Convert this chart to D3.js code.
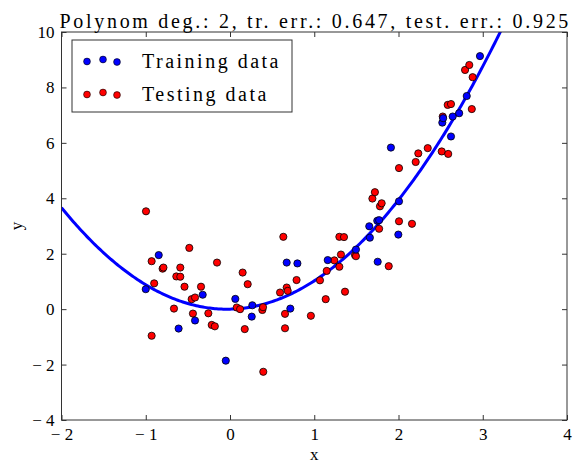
<!DOCTYPE html>
<html>
<head>
<meta charset="utf-8">
<script src="https://cdn.jsdelivr.net/npm/d3@7"></script>
<style>
  body { margin: 0; background: #fff; }
  text { font-family: "Liberation Serif", "DejaVu Serif", serif; fill: #000; }
</style>
</head>
<body>
<div id="chart"></div>
<script>
// training points (blue)
const trainX = [-1.0, -0.846, -0.61, -0.415, -0.324, -0.05, 0.063, 0.258, 0.265, 0.673, 0.80, 0.716,
  1.16, 1.495, 1.66, 1.653, 1.748, 1.77, 1.753, 1.91, 2.006, 1.998, 2.52, 2.53, 2.623, 2.643, 2.72, 2.81, 2.967];
const trainY = [0.72, 1.95, -0.70, -0.41, 0.52, -1.86, 0.37, -0.27, 0.14, 1.68, 1.65, 0.02,
  1.77, 2.15, 2.58, 2.99, 3.19, 3.21, 1.71, 5.83, 3.89, 2.69, 6.73, 6.89, 6.23, 6.95, 7.07, 7.69, 9.13];

// testing points (red)
const testX = [-0.997, -0.93, -0.90, -0.93, -0.80, -0.79, -0.665, -0.637, -0.59, -0.59, -0.54, -0.483,
  -0.455, -0.415, -0.44, -0.344, -0.257, -0.217, -0.18, -0.154, 0.08, 0.12, 0.15, 0.21, 0.175, 0.384,
  0.395, 0.392, 0.633, 0.594, 0.673, 0.685, 0.653, 0.653, 0.79, 0.96,
  1.068, 1.136, 1.148, 1.238, 1.298, 1.353, 1.317, 1.298, 1.365, 1.484, 1.495, 1.69, 1.72, 1.78, 1.80,
  1.77, 1.884, 2.006, 2.006, 2.16, 2.204, 2.235, 2.347, 2.513, 2.59, 2.525, 2.584, 2.623, 2.87, 2.79, 2.84, 2.88];
const testY = [3.53, 1.73, 0.93, -0.96, 1.46, 1.50, 0.02, 1.18, 1.17, 1.50, 0.81, 2.21,
  0.36, 0.42, -0.16, 0.81, -0.15, -0.57, -0.62, 1.68, 0.06, 0.0, 1.32, 0.9, -0.72, -0.03,
  -2.26, 0.07, 2.61, 0.6, 0.78, 0.66, -0.17, -0.69, 1.05, -0.24,
  1.04, 0.36, 1.38, 1.76, 2.61, 2.6, 1.97, 1.53, 0.63, 1.95, 1.91, 3.99, 4.22, 3.71, 3.82,
  2.90, 1.55, 5.09, 3.17, 3.08, 5.31, 5.62, 5.81, 5.69, 5.60, 6.95, 7.37, 7.40, 7.22, 8.63, 8.81, 8.37];

// fitted polynomial coefficients (a x^2 + b x + c)
const coef = [0.95, 0.07, 0.0];

const xTicks = [-2, -1, 0, 1, 2, 3, 4];
const yTicks = [-4, -2, 0, 2, 4, 6, 8, 10];
const title = "Polynom deg.: 2, tr. err.: 0.647, test. err.: 0.925";
const legendLabels = ["Training data", "Testing data"];

const width = 573, height = 466;
const margin = { left: 61.5, top: 32, right: 6, bottom: 46 };
const iw = width - margin.left - margin.right;
const ih = height - margin.top - margin.bottom;

const fmt = d => d < 0 ? "\u2212 " + Math.abs(d) : String(d);

const svg = d3.select("#chart").append("svg")
  .attr("width", width).attr("height", height);

const x = d3.scaleLinear().domain([-2, 4]).range([0, iw]);
const y = d3.scaleLinear().domain([-4, 10]).range([ih, 0]);

const g = svg.append("g").attr("transform", `translate(${margin.left},${margin.top})`);

g.append("clipPath").attr("id", "clip")
  .append("rect").attr("width", iw).attr("height", ih);

// curve
const curveX = d3.range(-2, 4.0001, 0.02);
const poly = v => coef[0] * v * v + coef[1] * v + coef[2];
g.append("path")
  .datum(curveX)
  .attr("clip-path", "url(#clip)")
  .attr("fill", "none")
  .attr("stroke", "#0000ff")
  .attr("stroke-width", 3)
  .attr("d", d3.line().x(d => x(d)).y(d => y(poly(d))));

// points
function dots(xs, ys, color) {
  g.append("g").selectAll("circle")
    .data(xs.map((d, i) => [d, ys[i]]))
    .join("circle")
    .attr("cx", d => x(d[0]))
    .attr("cy", d => y(d[1]))
    .attr("r", 3.6)
    .attr("fill", color)
    .attr("stroke", "#000")
    .attr("stroke-width", 0.8);
}
dots(testX, testY, "#ff0000");
dots(trainX, trainY, "#0000ff");

// axes (box with inward ticks)
const axisColor = "#333";
const tl = 5;
function styleAxis(sel) {
  sel.select(".domain").remove();
  sel.selectAll(".tick line").attr("stroke", axisColor);
  sel.selectAll("text").attr("font-size", 17).attr("font-family", "Liberation Serif, serif");
}
g.append("g").attr("transform", `translate(0,${ih})`)
  .call(d3.axisBottom(x).tickValues(xTicks).tickFormat(fmt).tickSizeInner(-tl).tickPadding(tl + 3))
  .call(styleAxis);
g.append("g")
  .call(d3.axisTop(x).tickValues(xTicks).tickFormat("").tickSizeInner(-tl))
  .call(styleAxis);
g.append("g")
  .call(d3.axisLeft(y).tickValues(yTicks).tickFormat(fmt).tickSizeInner(-tl).tickPadding(tl + 2))
  .call(styleAxis);
g.append("g").attr("transform", `translate(${iw},0)`)
  .call(d3.axisRight(y).tickValues(yTicks).tickFormat("").tickSizeInner(-tl))
  .call(styleAxis);

g.append("rect")
  .attr("width", iw).attr("height", ih)
  .attr("fill", "none").attr("stroke", axisColor).attr("stroke-width", 1);

// labels
svg.append("text")
  .attr("x", margin.left + iw / 2 + 1).attr("y", 28)
  .attr("text-anchor", "middle").attr("font-size", 20)
  .attr("letter-spacing", 2.7)
  .text(title);
svg.append("text")
  .attr("x", margin.left + iw / 2).attr("y", 460)
  .attr("text-anchor", "middle").attr("font-size", 17)
  .text("x");
svg.append("text")
  .attr("transform", `translate(22,${margin.top + ih / 2}) rotate(-90)`)
  .attr("text-anchor", "middle").attr("font-size", 17)
  .text("y");

// legend
const lg = svg.append("g").attr("transform", "translate(72,40)");
lg.append("rect").attr("width", 220).attr("height", 72)
  .attr("fill", "#fff").attr("stroke", axisColor).attr("stroke-width", 1);
const legColors = ["#0000ff", "#ff0000"];
legendLabels.forEach((lab, i) => {
  const cy = 20 + i * 33;
  [[15, 1.5], [31, -0.5], [45, 2]].forEach(([dx, dy]) => {
    lg.append("circle").attr("cx", dx).attr("cy", cy + dy).attr("r", 3.4)
      .attr("fill", legColors[i]).attr("stroke", "#000").attr("stroke-width", 0.6);
  });
  lg.append("text").attr("x", 70).attr("y", cy + 8)
    .attr("font-size", 20).attr("letter-spacing", 2.5)
    .text(lab);
});
</script>
</body>
</html>
